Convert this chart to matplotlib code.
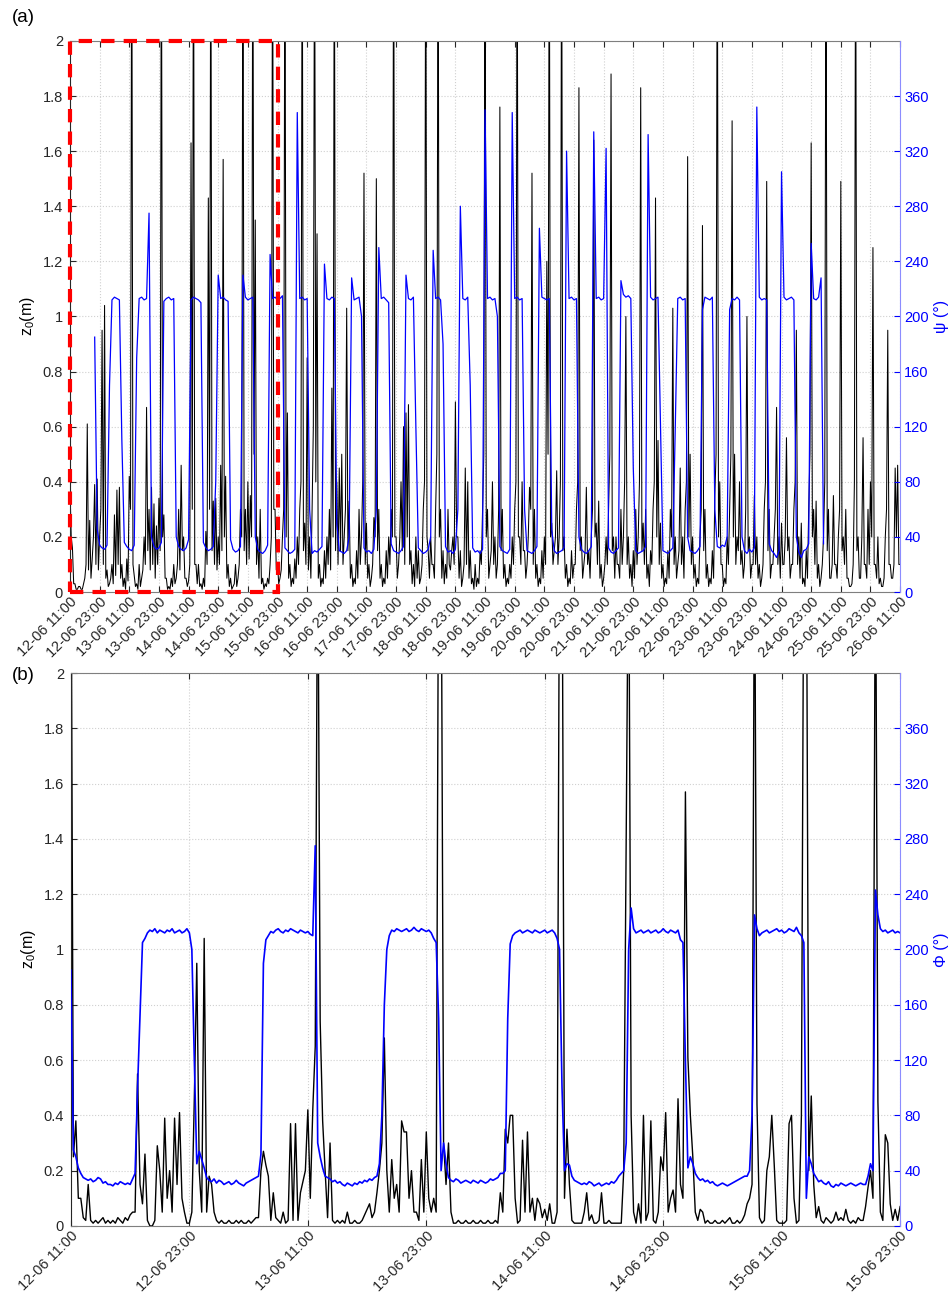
import numpy as np
import pandas as pd
import matplotlib
matplotlib.use('Agg')
from matplotlib import pyplot as plt
import matplotlib.dates as mdates
from matplotlib.patches import Rectangle
from matplotlib.ticker import FormatStrFormatter

plt.rcParams['font.family'] = ['Liberation Sans', 'DejaVu Sans']
plt.rcParams['mathtext.default'] = 'regular'

nan = np.nan
t0 = pd.Timestamp('2014-06-12 11:00')

# panel (a): z0 (m) every 30 min from 12-06 11:00, one row = 12 h
z0_a = [
    0.38, 0.2, 0.16, 0.03, 0.03, 0.01, 0.01, 0.02, 0.02, 0.01, 0.01, 0.03, 0.05, 0.1, 0.61, 0.08, 0.26, 0.05, 0.12, 0.2, 0.39, 0.1, 0.41, 0.08,
    0.2, 0.3, 0.95, 0.1, 1.04, 0.05, 0.08, 0.02, 0.03, 0.05, 0.1, 0.03, 0.28, 0.06, 0.37, 0.1, 0.38, 0.05, 0.1, 0.02, 0.05, 0.01, 0.12, 0.04,
    0.42, 0.3, 2.6, 0.1, 0.06, 0.02, 0.03, 0.01, 0.1, 0.02, 0.05, 0.08, 0.2, 0.1, 0.67, 0.15, 0.3, 0.08, 0.38, 0.1, 0.32, 0.05, 0.24, 0.1,
    0.34, 0.15, 2.6, 0.2, 0.28, 0.05, 0.05, 0.01, 0.02, 0.01, 0.05, 0.02, 0.1, 0.03, 0.05, 0.1, 0.3, 0.08, 0.46, 0.15, 0.2, 0.05, 0.05, 0.02,
    0.04, 0.1, 1.63, 0.3, 2.6, 0.1, 0.1, 0.03, 0.1, 0.02, 0.03, 0.01, 0.05, 0.02, 0.22, 0.1, 1.43, 0.3, 2.6, 0.15, 0.33, 0.1, 0.34, 0.08,
    0.2, 0.1, 0.46, 0.15, 1.57, 0.2, 0.42, 0.05, 0.1, 0.02, 0.05, 0.01, 0.02, 0.03, 0.1, 0.02, 0.05, 0.1, 0.3, 0.2, 2.6, 0.15, 0.3, 0.1,
    0.4, 0.12, 0.35, 0.2, 2.6, 0.5, 1.35, 0.1, 0.2, 0.05, 0.3, 0.03, 0.05, 0.01, 0.03, 0.02, 0.05, 0.03, 0.1, 0.2, 2.6, 0.3, 0.3, 0.08,
    0.1, 0.03, 0.05, 0.08, 0.2, 0.3, 2.6, 0.2, 0.65, 0.05, 0.1, 0.02, 0.05, 0.03, 0.12, 0.05, 0.2, 0.1, 0.3, 0.4, 2.6, 0.15, 0.25, 0.1,
    0.85, 0.08, 0.2, 0.05, 0.3, 0.6, 2.6, 0.4, 1.3, 0.05, 0.1, 0.02, 0.05, 0.03, 0.15, 0.05, 0.2, 0.1, 0.3, 0.08, 0.74, 0.2, 2.6, 0.15,
    0.4, 0.1, 0.45, 0.15, 0.5, 0.1, 0.2, 0.3, 1.03, 0.15, 0.33, 0.05, 0.1, 0.02, 0.05, 0.03, 0.15, 0.05, 0.3, 0.1, 0.2, 0.4, 1.52, 0.1,
    0.25, 0.05, 0.1, 0.02, 0.05, 0.1, 0.27, 0.2, 1.5, 0.15, 0.3, 0.05, 0.1, 0.02, 0.05, 0.03, 0.15, 0.05, 0.2, 0.1, 0.3, 0.2, 2.6, 0.2,
    0.2, 0.05, 0.1, 0.2, 0.4, 0.15, 0.6, 0.1, 0.65, 0.2, 0.68, 0.1, 0.15, 0.03, 0.1, 0.02, 0.2, 0.05, 0.15, 0.03, 0.05, 0.1, 0.3, 0.4,
    2.6, 0.2, 0.15, 0.05, 0.2, 0.1, 0.1, 0.05, 0.3, 0.5, 2.6, 0.2, 0.3, 0.05, 0.15, 0.03, 0.1, 0.05, 0.3, 0.1, 0.08, 0.15, 0.2, 0.1,
    0.69, 0.2, 0.2, 0.05, 0.15, 0.02, 0.05, 0.1, 0.45, 0.1, 0.4, 0.05, 0.15, 0.03, 0.05, 0.01, 0.1, 0.02, 0.05, 0.03, 0.15, 0.1, 0.3, 0.5,
    2.6, 0.2, 0.3, 0.05, 0.1, 0.15, 0.4, 0.1, 0.2, 0.05, 0.1, 0.3, 1.76, 0.15, 0.3, 0.05, 0.1, 0.02, 0.05, 0.03, 0.1, 0.05, 0.2, 0.1,
    0.3, 0.4, 2.6, 0.2, 0.2, 0.1, 0.4, 0.15, 0.15, 0.05, 0.1, 0.2, 0.38, 0.3, 1.52, 0.1, 0.3, 0.05, 0.1, 0.02, 0.05, 0.03, 0.15, 0.05,
    0.2, 0.1, 1.2, 0.5, 2.6, 0.2, 0.25, 0.1, 0.15, 0.2, 0.44, 0.1, 0.2, 0.4, 2.6, 0.15, 0.2, 0.05, 0.1, 0.02, 0.05, 0.03, 0.15, 0.05,
    0.1, 0.1, 0.3, 0.4, 1.83, 0.15, 0.2, 0.05, 0.1, 0.15, 0.38, 0.1, 0.15, 0.05, 0.2, 0.3, 1.64, 0.2, 0.25, 0.1, 0.33, 0.05, 0.1, 0.02,
    0.05, 0.1, 0.2, 0.1, 0.3, 0.5, 1.88, 0.15, 0.2, 0.05, 0.2, 0.1, 0.1, 0.05, 0.3, 0.1, 0.2, 0.4, 1.0, 0.1, 0.2, 0.05, 0.1, 0.02,
    0.15, 0.05, 0.3, 0.1, 0.2, 0.4, 1.83, 0.15, 0.25, 0.1, 0.3, 0.05, 0.1, 0.02, 0.15, 0.1, 0.3, 0.4, 1.43, 0.2, 0.55, 0.1, 0.25, 0.05,
    0.1, 0.02, 0.05, 0.03, 0.15, 0.05, 0.3, 0.2, 1.03, 0.1, 0.2, 0.05, 0.1, 0.15, 0.45, 0.1, 0.2, 0.05, 0.3, 0.4, 1.58, 0.2, 0.5, 0.1,
    0.2, 0.05, 0.1, 0.02, 0.05, 0.03, 0.2, 0.3, 1.33, 0.15, 0.3, 0.05, 0.1, 0.02, 0.05, 0.03, 0.15, 0.05, 0.35, 0.5, 2.6, 0.2, 0.4, 0.1,
    0.1, 0.02, 0.05, 0.03, 0.2, 0.1, 0.3, 0.5, 1.71, 0.2, 0.5, 0.1, 0.2, 0.15, 0.4, 0.1, 0.15, 0.05, 0.1, 0.3, 1.0, 0.15, 0.2, 0.05,
    0.1, 0.1, 0.35, 0.1, 0.2, 0.05, 0.1, 0.02, 0.05, 0.1, 0.3, 0.4, 1.49, 0.15, 0.3, 0.05, 0.1, 0.1, 0.2, 0.3, 0.67, 0.1, 0.2, 0.05,
    0.25, 0.1, 0.1, 0.2, 0.56, 0.15, 0.2, 0.05, 0.1, 0.1, 0.3, 0.4, 0.95, 0.1, 0.2, 0.05, 0.25, 0.03, 0.05, 0.02, 0.15, 0.05, 0.3, 0.5,
    1.63, 0.2, 0.3, 0.1, 0.33, 0.05, 0.1, 0.02, 0.05, 0.1, 0.2, 0.4, 2.6, 0.15, 0.3, 0.05, 0.05, 0.1, 0.35, 0.1, 0.1, 0.05, 0.2, 0.3,
    1.49, 0.15, 0.2, 0.1, 0.3, 0.05, 0.05, 0.02, 0.02, 0.03, 0.1, 0.4, 2.6, 0.15, 0.2, 0.05, 0.05, 0.2, 0.56, 0.1, 0.1, 0.05, 0.3, 0.1,
    0.4, 0.2, 1.25, 0.1, 0.1, 0.05, 0.2, 0.03, 0.05, 0.02, 0.02, 0.05, 0.2, 0.3, 0.95, 0.1, 0.1, 0.05, 0.05, 0.1, 0.45, 0.2, 0.46, 0.1,
    0.1,
]

# panel (a): psi (deg) every hour from 12-06 11:00
psi_a = [
    nan, nan, nan, nan, nan, nan, nan, nan, nan, nan, 185, 46,
    34, 32, 31, 34, 150, 212, 214, 213, 212, 110, 36, 33,
    31, 30, 34, 170, 213, 214, 212, 213, 275, 40, 33, 31,
    32, 36, 211, 213, 214, 212, 213, 40, 33, 31, 30, 32,
    38, 212, 214, 213, 212, 210, 36, 32, 30, 31, 33, 80,
    230, 213, 214, 212, 211, 38, 31, 29, 30, 33, 230, 214,
    212, 213, 214, 40, 31, 29, 28, 30, 34, 245, 213, 214,
    212, 213, 215, 32, 30, 28, 29, 31, 348, 213, 214, 212,
    213, 60, 28, 30, 29, 31, 33, 238, 213, 212, 214, 213,
    50, 30, 29, 28, 30, 40, 228, 212, 213, 214, 200, 32,
    29, 30, 28, 31, 60, 250, 213, 214, 212, 210, 35, 30,
    29, 28, 30, 33, 230, 213, 212, 214, 120, 32, 30, 28,
    29, 31, 40, 248, 213, 214, 212, 180, 33, 29, 30, 28,
    31, 60, 280, 213, 212, 214, 150, 32, 29, 30, 28, 31,
    350, 213, 214, 212, 213, 200, 33, 30, 29, 28, 31, 348,
    213, 214, 212, 213, 60, 30, 29, 28, 30, 33, 264, 214,
    213, 212, 213, 45, 30, 28, 29, 30, 32, 320, 213, 214,
    212, 213, 40, 31, 29, 28, 30, 33, 334, 213, 214, 212,
    213, 322, 32, 29, 28, 30, 32, 226, 216, 214, 215, 213,
    90, 30, 28, 29, 30, 33, 332, 214, 212, 213, 214, 120,
    30, 29, 28, 30, 32, 120, 213, 214, 212, 213, 40, 30,
    29, 28, 30, 33, 205, 214, 213, 212, 214, 60, 33, 32,
    34, 33, 40, 205, 213, 212, 214, 212, 40, 30, 28, 31,
    29, 32, 352, 214, 212, 213, 212, 35, 30, 28, 25, 30,
    305, 214, 212, 213, 214, 212, 40, 29, 25, 30, 31, 35,
    253, 213, 212, 214, 228, 35,
]

# panel (b): 15-min samples from 12-06 11:00 to 15-06 23:00, one row = 2 h
z0_b = [
    2.6, 0.25, 0.38, 0.1, 0.1, 0.03, 0.02, 0.15,
    0.02, 0.01, 0.02, 0.01, 0.02, 0.03, 0.01, 0.02,
    0.01, 0.02, 0.01, 0.03, 0.02, 0.01, 0.03, 0.02,
    0.04, 0.05, 0.05, 0.55, 0.15, 0.08, 0.26, 0.02,
    0.0, 0.0, 0.02, 0.29, 0.2, 0.05, 0.39, 0.1,
    0.2, 0.05, 0.39, 0.15, 0.41, 0.1, 0.05, 0.01,
    0.01, 0.05, 0.46, 0.95, 0.2, 0.05, 1.04, 0.05,
    0.18, 0.15, 0.05, 0.02, 0.01, 0.02, 0.01, 0.01,
    0.02, 0.01, 0.01, 0.02, 0.01, 0.02, 0.01, 0.01,
    0.02, 0.01, 0.02, 0.03, 0.03, 0.2, 0.27, 0.22,
    0.18, 0.02, 0.12, 0.03, 0.02, 0.01, 0.05, 0.01,
    0.02, 0.37, 0.02, 0.37, 0.02, 0.12, 0.16, 0.2,
    0.42, 0.1, 0.42, 0.65, 2.6, 0.74, 0.38, 0.2,
    0.03, 0.3, 0.02, 0.01, 0.02, 0.01, 0.02, 0.01,
    0.05, 0.01, 0.01, 0.02, 0.01, 0.01, 0.02, 0.04,
    0.06, 0.08, 0.03, 0.05, 0.12, 0.2, 0.3, 0.68,
    0.2, 0.05, 0.24, 0.1, 0.15, 0.05, 0.38, 0.34,
    0.34, 0.1, 0.2, 0.05, 0.05, 0.02, 0.24, 0.05,
    0.34, 0.1, 0.05, 0.1, 0.05, 2.6, 2.6, 0.3,
    0.15, 0.3, 0.05, 0.01, 0.01, 0.02, 0.01, 0.01,
    0.02, 0.01, 0.01, 0.02, 0.01, 0.01, 0.02, 0.01,
    0.01, 0.02, 0.01, 0.01, 0.02, 0.01, 0.12, 0.05,
    0.35, 0.3, 0.4, 0.4, 0.1, 0.01, 0.02, 0.31,
    0.05, 0.34, 0.05, 0.1, 0.02, 0.1, 0.08, 0.03,
    0.06, 0.02, 0.08, 0.01, 0.01, 0.05, 2.6, 2.6,
    0.1, 0.35, 0.15, 0.02, 0.01, 0.01, 0.01, 0.01,
    0.05, 0.12, 0.02, 0.04, 0.01, 0.01, 0.02, 0.12,
    0.01, 0.01, 0.02, 0.01, 0.01, 0.01, 0.01, 0.01,
    0.2, 1.4, 2.6, 0.4, 0.05, 0.01, 0.08, 0.01,
    0.4, 0.02, 0.05, 0.38, 0.02, 0.01, 0.05, 0.25,
    0.2, 0.41, 0.05, 0.1, 0.13, 0.05, 0.46, 0.15,
    0.1, 1.57, 0.61, 0.4, 0.25, 0.05, 0.02, 0.06,
    0.05, 0.01, 0.02, 0.01, 0.01, 0.02, 0.01, 0.01,
    0.02, 0.01, 0.02, 0.03, 0.01, 0.01, 0.02, 0.01,
    0.02, 0.04, 0.08, 0.1, 0.15, 2.6, 0.44, 0.03,
    0.01, 0.02, 0.2, 0.25, 0.4, 0.22, 0.02, 0.01,
    0.01, 0.01, 0.02, 0.37, 0.4, 0.1, 0.01, 0.02,
    0.4, 2.6, 2.6, 0.2, 0.47, 0.15, 0.03, 0.07,
    0.02, 0.01, 0.03, 0.02, 0.01, 0.02, 0.05, 0.02,
    0.03, 0.02, 0.06, 0.02, 0.01, 0.02, 0.01, 0.03,
    0.02, 0.02, 0.07, 0.14, 0.2, 0.1, 2.6, 0.45,
    0.05, 0.02, 0.33, 0.3, 0.08, 0.02, 0.06, 0.02,
    0.07,
]

phi_b = [
    185, 55, 50, 42, 38, 35, 34, 33,
    34, 32, 33, 35, 34, 31, 32, 30,
    30, 29, 31, 30, 32, 31, 30, 31,
    30, 34, 38, 100, 152, 205, 208, 212,
    214, 213, 215, 212, 214, 213, 212, 214,
    213, 215, 212, 213, 214, 212, 213, 215,
    212, 200, 120, 45, 54, 48, 42, 35,
    33, 32, 34, 31, 33, 32, 30, 31,
    32, 30, 31, 33, 31, 30, 29, 31,
    32, 33, 34, 35, 36, 52, 190, 207,
    210, 213, 212, 214, 215, 213, 212, 214,
    213, 215, 214, 213, 212, 214, 213, 212,
    213, 211, 210, 275, 60, 50, 42, 36,
    35, 34, 32, 33, 31, 32, 30, 29,
    31, 30, 29, 31, 30, 32, 31, 33,
    32, 34, 33, 35, 36, 45, 80, 160,
    200, 210, 214, 213, 215, 214, 213, 214,
    215, 213, 214, 216, 214, 213, 215, 214,
    213, 214, 212, 208, 205, 150, 40, 60,
    45, 35, 33, 32, 34, 33, 31, 32,
    33, 32, 31, 33, 32, 31, 33, 32,
    31, 32, 34, 33, 34, 35, 38, 38,
    40, 150, 204, 210, 212, 213, 214, 212,
    213, 214, 213, 212, 214, 213, 212, 213,
    214, 212, 213, 214, 212, 208, 200, 100,
    40, 45, 44, 36, 33, 32, 31, 30,
    31, 30, 32, 31, 29, 30, 31, 29,
    30, 31, 30, 32, 31, 33, 36, 38,
    40, 60, 200, 230, 215, 212, 213, 214,
    212, 213, 214, 212, 213, 214, 212, 213,
    215, 213, 212, 214, 213, 212, 214, 207,
    205, 120, 42, 50, 45, 38, 35, 33,
    34, 32, 33, 31, 32, 30, 29, 30,
    31, 30, 29, 30, 31, 32, 33, 34,
    35, 36, 36, 40, 80, 225, 215, 210,
    212, 213, 214, 212, 213, 214, 215, 213,
    214, 212, 213, 215, 214, 213, 216, 212,
    210, 205, 20, 50, 45, 38, 35, 32,
    33, 31, 30, 32, 29, 28, 30, 29,
    31, 30, 29, 30, 31, 30, 29, 30,
    31, 30, 30, 36, 45, 40, 243, 225,
    215, 213, 214, 212, 213, 214, 212, 213,
    212,
]

blue = '#0000ff'


def hours(n, step):
    return (t0 + pd.to_timedelta(np.arange(n) * step, unit='h')).to_numpy()


def panel(rect, z0, t_z0, ang, t_ang, span_h, right_label, lw_k, lw_b):
    ax = fig.add_axes(rect)
    ax2 = ax.twinx()

    ax.plot(t_z0, z0, color='k', lw=lw_k)
    ax2.plot(t_ang, ang, color=blue, lw=lw_b)

    ax.set_xlim(t0, t0 + pd.Timedelta(hours=span_h))
    ax.set_ylim(0, 2)
    ax.set_yticks(np.arange(0, 2.01, 0.2))
    ax.yaxis.set_major_formatter(FormatStrFormatter('%g'))
    ax2.set_ylim(0, 400)
    ax2.set_yticks(np.arange(0, 361, 40))

    ax.xaxis.set_major_locator(mdates.HourLocator(byhour=[11, 23]))
    ax.xaxis.set_major_formatter(mdates.DateFormatter('%d-%m %H:%M'))
    plt.setp(ax.get_xticklabels(), rotation=45, ha='right',
             rotation_mode='anchor')

    ax.grid(True, color='#d0d0d0', ls=':', lw=0.8)
    ax.tick_params(direction='in', length=4, labelsize=10.5, top=True,
                   right=False, colors='#262626', pad=5)
    ax.tick_params(axis='x', pad=2)
    ax2.tick_params(direction='in', length=4, labelsize=10.5, colors=blue,
                    pad=3)
    for s in ['left', 'top', 'bottom']:
        ax.spines[s].set_color('#7f7f7f')
        ax2.spines[s].set_visible(False)
    ax.spines['left'].set_color('#262626')
    ax.spines['right'].set_visible(False)
    ax2.spines['right'].set_color('#8c8cff')

    ax.set_ylabel('z$_0$(m)', fontsize=11.5, labelpad=4)
    ax2.set_ylabel(right_label, fontsize=11.5, color=blue, labelpad=4)
    return ax, ax2


fig = plt.figure(figsize=(9.52, 12.94), dpi=100)

axa, axa2 = panel([0.0735, 0.5425, 0.8720, 0.4259], z0_a,
                  hours(len(z0_a), 0.5), psi_a, hours(len(psi_a), 1.0),
                  336, 'ψ (°)', 0.75, 0.9)

# zoom window shown in panel (b): 84 h from the start, full height
x0 = mdates.date2num(t0)
box = Rectangle((x0, 0), 3.5, 400, fill=False, edgecolor='#ff0000', lw=3,
                ls=(0, (3.2, 2.2)), clip_on=False, zorder=10)
axa2.add_patch(box)

axb, axb2 = panel([0.0745, 0.0526, 0.8710, 0.4273], z0_b,
                  hours(len(z0_b), 0.25), phi_b, hours(len(phi_b), 0.25),
                  84, 'Φ (°)', 1.0, 1.2)

fig.text(0.012, 1 - 17 / 1294, '(a)', fontsize=13.5, va='center')
fig.text(0.012, 1 - 676 / 1294, '(b)', fontsize=13.5, va='center')

fig.savefig('out.png', dpi=100)
